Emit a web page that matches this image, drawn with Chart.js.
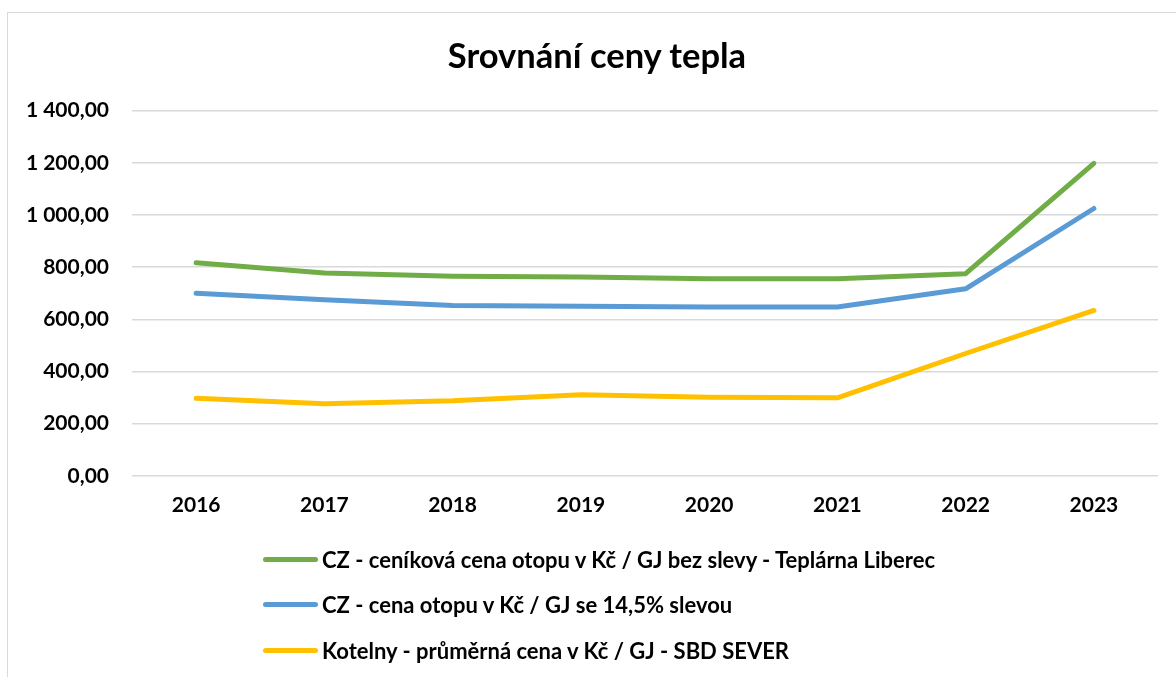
<!DOCTYPE html>
<html>
<head>
<meta charset="utf-8">
<script src="https://cdn.jsdelivr.net/npm/chart.js@4/dist/chart.umd.min.js"></script>
<style>
  body { margin: 0; background: #fff; font-family: Lato, sans-serif; }
  #wrap { position: relative; width: 1176px; height: 677px; overflow: hidden; }
  #frame { position: absolute; left: 7px; top: 12px; width: 1200px; height: 700px; border: 1.5px solid #d9d9d9; }
  #myChart { position: absolute; left: 0; top: 0; }
  #title { position: absolute; left: 0; width: 1194px; top: 34px; line-height: 41px; text-align: center;
           font-size: 34.5px; font-weight: bold; color: #000; }
  #legend { position: absolute; left: 263px; top: 537px; }
  .item { height: 45.3px; display: flex; align-items: center; font-weight: bold; font-size: 22px; color: #000; white-space: nowrap; }
  .swatch { width: 55px; height: 5px; border-radius: 3px; margin-right: 4px; }
</style>
</head>
<body>
<div id="wrap">
  <div id="frame"></div>
  <canvas id="myChart" width="1176" height="677"></canvas>
  <div id="title">Srovnání ceny tepla</div>
  <div id="legend"></div>
</div>
<script>
// Data
const years = ['2016', '2017', '2018', '2019', '2020', '2021', '2022', '2023'];
const cenikova = [817, 778, 765, 762, 756, 756, 775, 1198];
const seSlevou = [700, 675, 653, 650, 647, 647, 717, 1025];
const kotelny = [297, 276, 288, 311, 301, 299, 469, 634];
const yTickLabels = ['0,00', '200,00', '400,00', '600,00', '800,00', '1 000,00', '1 200,00', '1 400,00'];

const seriesNames = [
  'CZ - ceníková cena otopu v Kč / GJ bez slevy - Teplárna Liberec',
  'CZ - cena otopu v Kč / GJ se 14,5% slevou',
  'Kotelny - průměrná cena v Kč / GJ - SBD SEVER'
];
const seriesColors = ['#70AD47', '#5B9BD5', '#FFC000'];

function lineSet(i, values) {
  return {
    label: seriesNames[i],
    data: values,
    borderColor: seriesColors[i],
    backgroundColor: seriesColors[i],
    borderWidth: 5,
    pointRadius: 0,
    tension: 0,
    borderCapStyle: 'round',
    borderJoinStyle: 'round'
  };
}

const ctx = document.getElementById('myChart').getContext('2d');
const myChart = new Chart(ctx, {
  type: 'line',
  data: {
    labels: years,
    datasets: [lineSet(0, cenikova), lineSet(1, seSlevou), lineSet(2, kotelny)]
  },
  options: {
    responsive: false,
    animation: false,
    // title is an html block above (centred on the frame), so reserve its room here
    layout: { padding: { top: 110.7, left: 0, right: 18, bottom: 142 } },
    plugins: {
      legend: { display: false },
      tooltip: { enabled: false },
      title: { display: false }
    },
    scales: {
      x: {
        offset: true,
        grid: { display: false, drawTicks: false },
        border: { display: false },
        ticks: {
          color: '#000',
          padding: 17,
          font: { family: 'Lato', size: 21, weight: 'bold', lineHeight: 1.2 }
        }
      },
      y: {
        min: 0,
        max: 1400,
        afterFit: scale => { scale.width = 132; },
        grid: { color: '#d9d9d9', lineWidth: 1.5, drawTicks: false },
        border: { display: false },
        ticks: {
          stepSize: 200,
          color: '#000',
          padding: 23,
          font: { family: 'Lato', size: 21, weight: 'bold', lineHeight: 1.2 },
          callback: (value, index) => yTickLabels[index]
        }
      }
    }
  }
});

// Vertical legend under the chart, built from the datasets
const legendBox = document.getElementById('legend');
myChart.data.datasets.forEach(ds => {
  const row = document.createElement('div');
  row.className = 'item';
  const sw = document.createElement('span');
  sw.className = 'swatch';
  sw.style.background = ds.borderColor;
  const txt = document.createElement('span');
  txt.textContent = ds.label;
  row.appendChild(sw);
  row.appendChild(txt);
  legendBox.appendChild(row);
});
</script>
</body>
</html>
